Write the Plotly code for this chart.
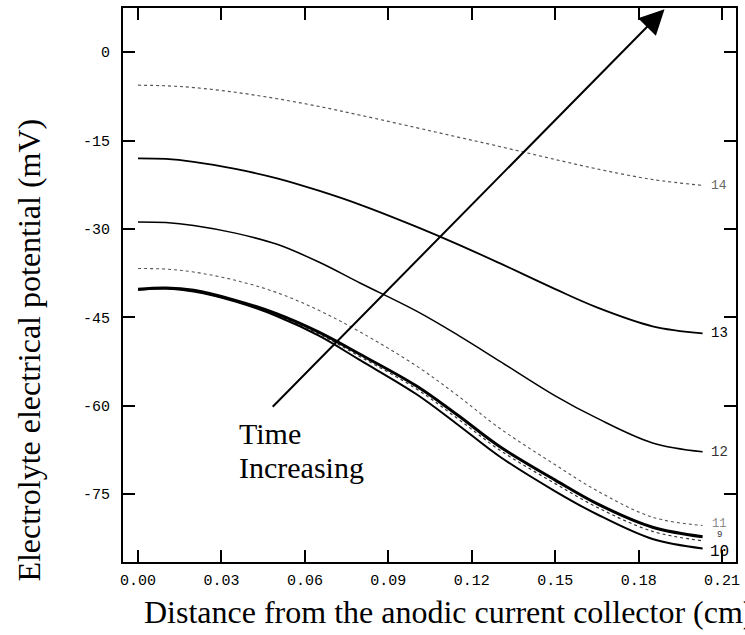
import plotly.graph_objects as go

# distance (cm)
x = [0, 0.01, 0.02, 0.035, 0.05, 0.065, 0.08, 0.10, 0.115, 0.13, 0.15, 0.165, 0.185, 0.203]

# electrolyte potential (mV) for each curve label
c14 = [-5.6, -5.7, -6.0, -6.8, -7.9, -9.2, -10.7, -12.8, -14.4, -16.0, -18.2, -19.8, -21.6, -22.6]
c13 = [-18.0, -18.1, -18.6, -19.8, -21.4, -23.5, -25.9, -29.6, -32.6, -35.8, -40.2, -43.3, -46.5, -47.7]
c12 = [-28.8, -28.9, -29.4, -30.7, -32.6, -35.6, -39.2, -43.9, -48.0, -52.4, -58.3, -62.1, -66.3, -67.8]
c11 = [-36.7, -36.8, -37.3, -38.7, -40.8, -43.8, -47.5, -53.2, -58.3, -63.8, -70.0, -74.4, -78.9, -80.3]
c9 = [-40.2, -40.0, -40.4, -42.1, -44.4, -47.5, -51.3, -56.6, -61.6, -66.9, -72.6, -76.6, -80.6, -82.2]
c8 = [-40.2, -40.0, -40.5, -42.2, -44.6, -47.8, -51.7, -57.1, -62.2, -67.5, -73.2, -77.2, -81.3, -82.9]
c10 = [-40.3, -40.1, -40.6, -42.3, -44.8, -48.1, -52.3, -58.0, -63.2, -68.6, -74.5, -78.4, -82.6, -84.2]

xticks = [0.0, 0.03, 0.06, 0.09, 0.12, 0.15, 0.18, 0.21]
xtick_text = ["0.00", "0.03", "0.06", "0.09", "0.12", "0.15", "0.18", "0.21"]
yticks = [0, -15, -30, -45, -60, -75]
ytick_text = ["0", "-15", "-30", "-45", "-60", "-75"]

curves = [
    ("14", c14, dict(color="#555555", width=1.2, dash="dot")),
    ("13", c13, dict(color="black", width=1.8)),
    ("12", c12, dict(color="black", width=1.5)),
    ("11", c11, dict(color="#555555", width=1.1, dash="dot")),
    ("8", c8, dict(color="#333333", width=1.2, dash="dot")),
    ("9", c9, dict(color="black", width=3)),
    ("10", c10, dict(color="black", width=2)),
]

fig = go.Figure()
for name, ys, ln in curves:
    fig.add_trace(go.Scatter(x=x, y=ys, mode="lines", line=dict(shape="spline", **ln),
                             name=name, showlegend=False))

mono = "Liberation Mono"
labels = [("14", c14[-1], "#666666", 13), ("13", c13[-1], "black", 14),
          ("12", c12[-1], "#333333", 14), ("11", c11[-1] + 0.3, "#888888", 12),
          ("9", c9[-1] + 0.2, "#333333", 9), ("10", c10[-1] - 0.6, "black", 16)]
for t, yv, col, sz in labels:
    fig.add_annotation(x=0.2090, y=yv, text=t, showarrow=False, xref="x", yref="y",
                       font=dict(family=mono, size=sz, color=col))

# arrow
fig.add_annotation(x=0.1893, y=7.3, ax=0.0479, ay=-60.4, axref="x", ayref="y",
                   xref="x", yref="y", text="", showarrow=True, arrowhead=2,
                   arrowsize=2.5, arrowwidth=2, arrowcolor="black", standoff=0)
serif = "Liberation Serif"
fig.add_annotation(x=0.0355, y=(52 - 433) / 5.894, xref="x", yref="y", xanchor="left",
                   yanchor="middle", text="Time", showarrow=False,
                   font=dict(family=serif, size=30, color="black"))
fig.add_annotation(x=0.0355, y=(52 - 467) / 5.894, xref="x", yref="y", xanchor="left",
                   yanchor="middle", text="Increasing", showarrow=False,
                   font=dict(family=serif, size=30, color="black"))

# axis titles
fig.add_annotation(xref="paper", yref="paper", x=(28 - 123) / 617, y=(562 - 350) / 554,
                   text="Electrolyte electrical potential (mV)", textangle=-90,
                   showarrow=False, xanchor="center", yanchor="middle",
                   font=dict(family=serif, size=32, color="black"))
fig.add_annotation(xref="paper", yref="paper", x=(142 - 123) / 617, y=-(612 - 562) / 554,
                   text="Distance from the anodic current collector (cm)", showarrow=False,
                   xanchor="left", yanchor="middle",
                   font=dict(family=serif, size=32, color="black"))

axis_common = dict(showline=True, linecolor="black", linewidth=2, mirror="ticks",
                   ticks="inside", ticklen=12, tickwidth=2, tickcolor="black",
                   showgrid=False, zeroline=False,
                   tickfont=dict(family=mono, size=15, color="black"))
fig.update_xaxes(range=[-0.0054, 0.2150], tickvals=xticks, ticktext=xtick_text,
                 ticklabelstandoff=3, **axis_common)
fig.update_yaxes(range=[-86.5, 7.5], tickvals=yticks, ticktext=ytick_text,
                 ticklabelstandoff=8, **axis_common)

fig.update_layout(width=745, height=635, margin=dict(l=123, r=5, t=8, b=73),
                  plot_bgcolor="white", paper_bgcolor="white")
fig.write_html("out.html")
